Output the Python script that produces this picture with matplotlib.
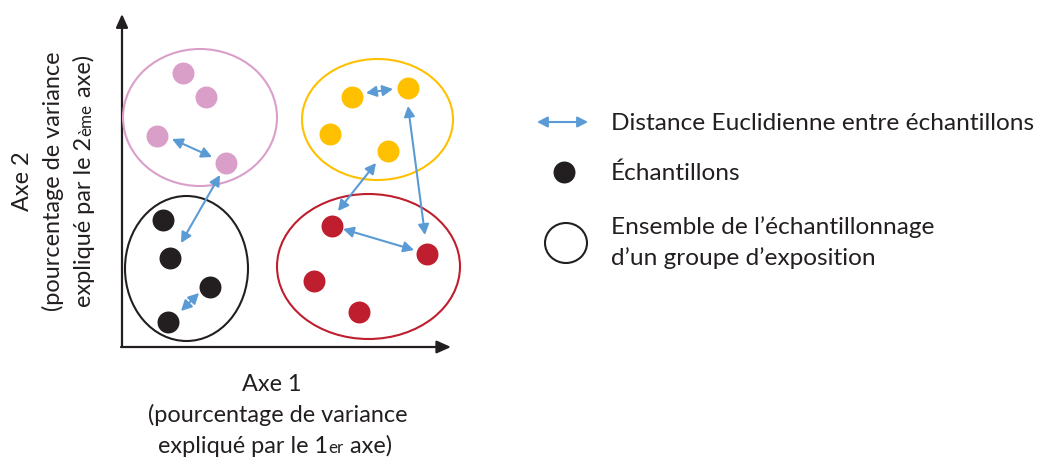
import matplotlib
matplotlib.use('Agg')
import matplotlib.pyplot as plt
from matplotlib.patches import Ellipse, FancyArrowPatch

W, H = 1038, 458
FONT = 'Lato'

# ---- data: sample positions in the ordination plane (pixel-like units) ----
group_colors = ['#DA9FC9', '#FFC000', '#231F20', '#BE1E2D']
pink_x = [183, 206, 157, 226]
pink_y = [73, 97, 136, 163]
yellow_x = [352, 408, 330, 388]
yellow_y = [97, 88, 134, 151]
black_x = [163, 170, 210, 168]
black_y = [220, 258, 287, 322]
red_x = [332, 427, 314, 359]
red_y = [226, 254, 281, 312]

# exposure-group envelopes
ellipse_cx = [200, 377.5, 186.5, 368.5]
ellipse_cy = [117.5, 119.5, 268.5, 266.5]
ellipse_w = [154, 151, 123, 183]
ellipse_h = [137, 121, 145, 145]

# Euclidean distance arrows
arrow_x0 = [172, 366, 181, 343, 181, 376, 408]
arrow_y0 = [139, 93, 311, 229, 243, 163, 106]
arrow_x1 = [212, 393, 199, 414, 220, 338, 425]
arrow_y1 = [157, 89, 293, 250, 175, 211, 235]

legend_labels = ['Distance Euclidienne entre échantillons', 'Échantillons',
                 'Ensemble de l’échantillonnage', 'd’un groupe d’exposition']

BLUE = '#5B9BD5'
ARROW = '<|-|>,head_length=0.62,head_width=0.32'

fig = plt.figure(figsize=(W / 100, H / 100), dpi=100)
ax = fig.add_axes([0, 0, 1, 1])
ax.set_xlim(0, W)
ax.set_ylim(H, 0)
ax.axis('off')
renderer = fig.canvas.get_renderer()


def text_width(s, size):
    t = ax.text(0, 0, s, fontsize=size, family=FONT)
    w = t.get_window_extent(renderer).width
    t.remove()
    return w


def fit(s, target):
    return 16 * target / text_width(s, 16)


def rich(pieces, cx, cy, vertical=False, gap=0.6):
    widths = [text_width(s, sz) for s, sz in pieces]
    total = sum(widths) + gap * (len(pieces) - 1)
    off = -total / 2
    for (s, sz), w in zip(pieces, widths):
        if vertical:
            ax.text(cx, cy - off, s, fontsize=sz, family=FONT, rotation=90,
                    rotation_mode='anchor', ha='left', va='baseline', color='#231F20')
        else:
            ax.text(cx + off, cy, s, fontsize=sz, family=FONT,
                    ha='left', va='baseline', color='#231F20')
        off += w + gap


# axes arrows
ax.add_patch(FancyArrowPatch((122, 347), (122, 14),
             arrowstyle='-|>,head_length=0.8,head_width=0.36', mutation_scale=10,
             color='#231F20', lw=1.6, shrinkA=0, shrinkB=0))
ax.add_patch(FancyArrowPatch((121, 347), (451, 347),
             arrowstyle='-|>,head_length=0.85,head_width=0.38', mutation_scale=10,
             color='#231F20', lw=1.6, shrinkA=0, shrinkB=0))

# envelopes
for cx, cy, w, h, c in zip(ellipse_cx, ellipse_cy, ellipse_w, ellipse_h, group_colors):
    ax.add_patch(Ellipse((cx, cy), w, h, fill=False, edgecolor=c, lw=1.5))

# samples
for xs, ys, c in zip([pink_x, yellow_x, black_x, red_x],
                     [pink_y, yellow_y, black_y, red_y], group_colors):
    ax.scatter(xs, ys, s=250, color=c, linewidths=0, zorder=3)

# distance arrows
for x0, y0, x1, y1 in zip(arrow_x0, arrow_y0, arrow_x1, arrow_y1):
    ax.add_patch(FancyArrowPatch((x0, y0), (x1, y1),
                 arrowstyle=ARROW, mutation_scale=10,
                 color=BLUE, lw=1.5, shrinkA=0, shrinkB=0, zorder=4))

# legend
leg_size = fit(legend_labels[0], 423)
ax.add_patch(FancyArrowPatch((537, 122), (588, 122),
             arrowstyle=ARROW, mutation_scale=10,
             color=BLUE, lw=1.5, shrinkA=0, shrinkB=0))
ax.scatter([564], [172], s=250, color='#231F20', linewidths=0)
ax.add_patch(Ellipse((566, 243), 42, 40, fill=False, edgecolor='#231F20', lw=1.5))
for lab, yb in zip(legend_labels, [130, 180, 234, 265]):
    ax.text(611, yb, lab, fontsize=leg_size, family=FONT, ha='left', va='baseline',
            color='#231F20')

# axis titles
ax_size = fit('(pourcentage de variance', 262)
small = ax_size * 0.72
rich([('Axe 1', ax_size)], 272, 391)
rich([('(pourcentage de variance', ax_size)], 278, 422)
rich([('expliqué par le 1', ax_size), ('er', small), (' axe)', ax_size)], 275, 453)

rich([('Axe 2', ax_size)], 29, 181, vertical=True)
rich([('(pourcentage de variance', ax_size)], 60, 181, vertical=True)
rich([('expliqué par le 2', ax_size), ('ème', small), (' axe)', ax_size)], 91, 181, vertical=True)

fig.savefig('out.png', dpi=100)
